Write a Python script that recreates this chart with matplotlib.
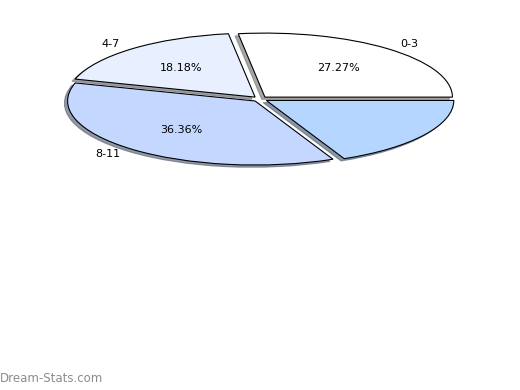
import matplotlib
matplotlib.use("Agg")
import matplotlib.pyplot as plt

# données du graphique
labels = ["0-3", "4-7", "8-11", ""]
counts = [3, 2, 4, 2]
colors = ["#ffffff", "#e8f0ff", "#c4d8ff", "#b4d6ff"]
pct_shown = [True, True, True, False]

fig = plt.figure(figsize=(5.2, 3.9), dpi=100)
ax = fig.add_axes([0.0673, 0.549, 0.8654, 0.394])

pcts = iter(pct_shown)
def fmt(p):
    return "%.2f%%" % p if next(pcts) else ""

ax.pie(counts, labels=labels, colors=colors, autopct=fmt, startangle=0,
       counterclock=True, explode=[0.04] * 4,
       shadow=dict(ox=-0.012, oy=-0.025, shade=0.5, alpha=0.7),
       labeldistance=1.1, pctdistance=0.6,
       wedgeprops=dict(edgecolor="black", linewidth=0.8),
       textprops=dict(fontsize=8))

# ellipse : on laisse l'aspect libre
ax.set_aspect("auto")
ax.set_xlim(-1.2, 1.2)
ax.set_ylim(-1.2, 1.2)
ax.axis("off")

fig.text(0.0, 0.012, "Dream-Stats.com", fontsize=8.5, color="#8c8c8c",
         ha="left", va="bottom")

fig.savefig("out.png", dpi=100)
